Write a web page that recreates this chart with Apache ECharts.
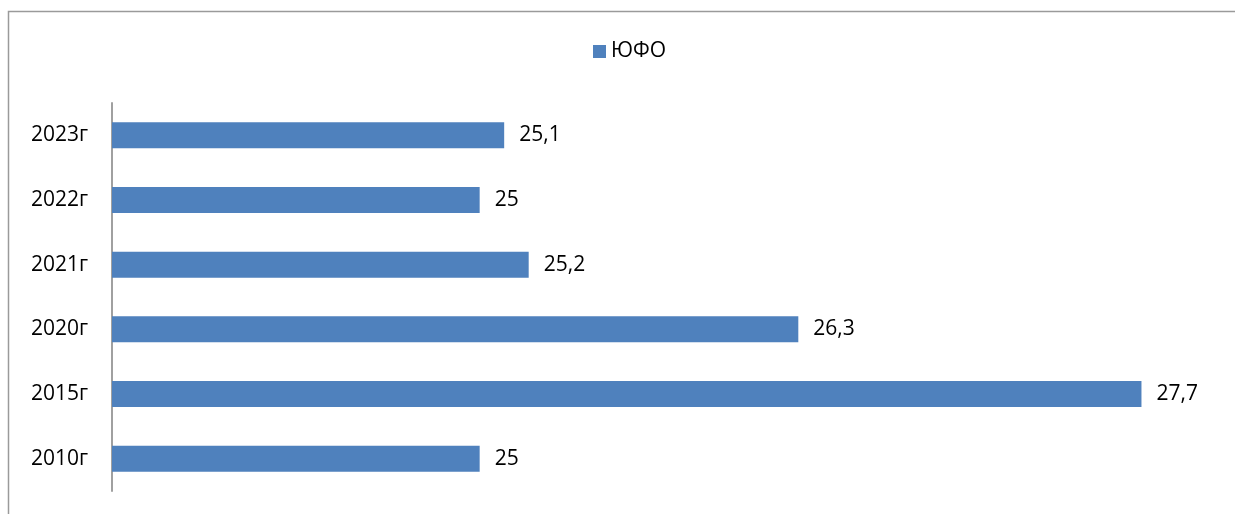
<!DOCTYPE html>
<html>
<head>
<meta charset="utf-8">
<script src="https://cdn.jsdelivr.net/npm/echarts@6/dist/echarts.min.js"></script>
<style>
  html, body { margin: 0; padding: 0; background: #fff; }
  #main { width: 1235px; height: 514px; }
</style>
</head>
<body>
<div id="main"></div>
<script>
var years = ['2010г', '2015г', '2020г', '2021г', '2022г', '2023г'];
var ufoValues = [25, 27.7, 26.3, 25.2, 25, 25.1];
var seriesName = 'ЮФО';

var chart = echarts.init(document.getElementById('main'));
var font = '"Open Sans", "Noto Sans", sans-serif';

var option = {
  animation: false,
  textStyle: { fontFamily: font },
  graphic: [{
    type: 'rect',
    left: 6,
    top: 9,
    shape: { width: 1400, height: 700 },
    style: { fill: 'none', stroke: '#9a9a9a', lineWidth: 1.5 },
    silent: true
  }],
  legend: {
    top: 36,
    left: 588,
    padding: 5,
    itemWidth: 13,
    itemHeight: 13,
    itemGap: 10,
    textStyle: { fontSize: 21, color: '#000', fontFamily: font },
    data: [{ name: seriesName, icon: 'rect' }]
  },
  grid: {
    left: 112,
    right: 20,
    top: 103,
    bottom: 23
  },
  xAxis: {
    type: 'value',
    min: 23.5,
    max: 28,
    show: false
  },
  yAxis: {
    type: 'category',
    data: years,
    axisLine: { show: true, lineStyle: { color: '#a0a0a0', width: 2 } },
    axisTick: { show: false },
    axisLabel: { fontSize: 21, color: '#000', margin: 24, fontFamily: font },
    splitLine: { show: false }
  },
  series: [{
    name: seriesName,
    type: 'bar',
    data: ufoValues,
    barWidth: 26,
    itemStyle: { color: '#4F81BD' },
    label: {
      show: true,
      position: 'right',
      distance: 15,
      fontSize: 21,
      color: '#000',
      fontFamily: font,
      formatter: function (p) {
        return String(p.value).replace('.', ',');
      }
    }
  }]
};

chart.setOption(option);
</script>
</body>
</html>
